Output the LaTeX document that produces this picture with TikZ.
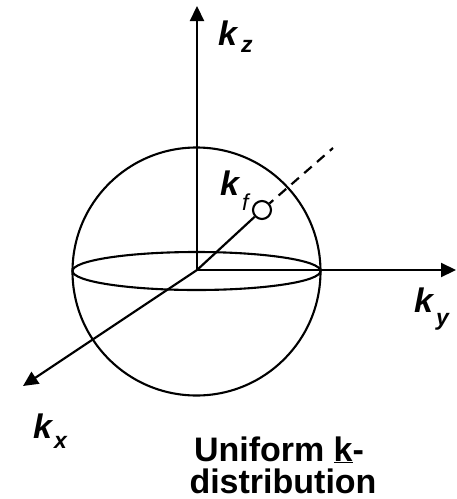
\documentclass[tikz,border=0pt]{standalone}
\usepackage{fontspec}
\setmainfont{Liberation Sans}
\usetikzlibrary{arrows.meta,shapes.geometric}
\begin{document}
\begin{tikzpicture}[x=1pt,y=-1pt,
  line width=2.2pt,
  axis/.style={-{Triangle[length=15pt,width=14pt]}},
  klbl/.style={anchor=base west, inner sep=0pt, font=\fontsize{34}{34}\selectfont\bfseries\itshape},
  sublbl/.style={anchor=base west, inner sep=0pt, font=\fontsize{23}{23}\selectfont\bfseries\itshape},
  captext/.style={anchor=base, inner sep=0pt, font=\fontsize{34}{33}\selectfont\bfseries}]
\useasboundingbox (0,0) rectangle (457,499);
\coordinate (O) at (197,270);
\coordinate (ztip) at (197,6);
\coordinate (ytip) at (456,270);
\coordinate (xtip) at (23,386);
\coordinate (dend) at (333,148);
% sphere
\node[circle, draw, line width=2.1pt, minimum size=248pt, inner sep=0pt] (sph) at (196.5,271.5) {};
\node[ellipse, draw, line width=2.1pt, minimum width=248pt, minimum height=38pt, inner sep=0pt] (eq) at (196.5,271) {};
% k_f point
\node[circle, draw, line width=2.1pt, minimum size=18pt, inner sep=0pt] (kf) at (262,210) {};
% axes
\draw[axis] (O) -- (ztip);
\draw[axis] (O) -- (ytip);
\draw[axis] (O) -- (xtip);
\draw (O) -- (kf);
\draw[dash pattern=on 10pt off 7pt, dash phase=5pt] (kf) -- (dend);
% labels
\node[klbl] (lzk) at (217,45) {k};
\node[sublbl] (lzs) at (240,52) {z};
\node[klbl] (lfk) at (219,195) {k};
\node[sublbl, font=\fontsize{23}{23}\selectfont\itshape] (lfs) at (241,210) {f};
\node[klbl] (lyk) at (413,312) {k};
\node[sublbl] (lys) at (435,325) {y};
\node[klbl] (lxk) at (32,438) {k};
\node[sublbl] (lxs) at (53,448) {x};
\node[captext] (c1) at (279,461) {Uniform \underline{k}-};
\node[captext] (c2) at (283,493) {distribution};
\end{tikzpicture}
\end{document}
